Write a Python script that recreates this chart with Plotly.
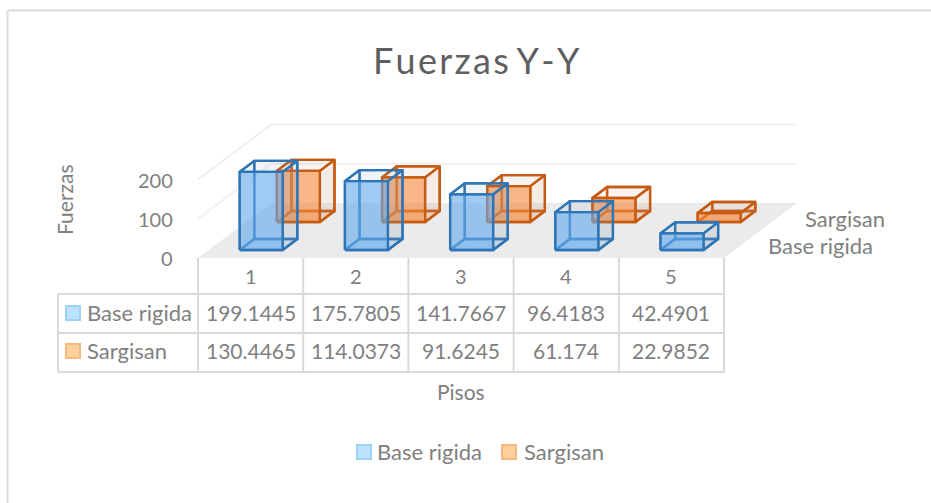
import plotly.graph_objects as go

floors = [1, 2, 3, 4, 5]
base_rigida = [199.1445, 175.7805, 141.7667, 96.4183, 42.4901]
sargisan = [130.4465, 114.0373, 91.6245, 61.174, 22.9852]
base_labels = ["199.1445", "175.7805", "141.7667", "96.4183", "42.4901"]
sarg_labels = ["130.4465", "114.0373", "91.6245", "61.174", "22.9852"]
value_ticks = [0, 100, 200]

W, H = 931, 503
CAT_PX, VAL_PX = 105.2, 0.392
X1_PX, Y0_PX = 250.6, 258.0
DX_PX, DY_PX = 73.0, 55.0
FONT = "Lato"
GREY = "#808080"
GRID = "#d9d9d9"


def project(c, v, d):
    return c + d * DX_PX / CAT_PX, v + d * DY_PX / VAL_PX


def px(x):
    return x / W


def py(y):
    return 1 - y / H


def poly(points, fill=None, line=None, width=2.3):
    xs, ys = zip(*[project(*p) for p in points])
    return go.Scatter(
        x=list(xs), y=list(ys), mode="lines" if line else "none",
        fill="toself" if fill else None, fillcolor=fill,
        line=dict(color=line, width=width, simplify=False) if line else None,
        showlegend=False, hoverinfo="skip",
    )


fig = go.Figure()
# floor
fig.add_trace(poly([(0.5, 0, 0), (5.5, 0, 0), (5.5, 0, 1), (0.5, 0, 1), (0.5, 0, 0)], fill="#ebebeb"))
# walls
for v in value_ticks[1:]:
    fig.add_trace(poly([(0.5, v, 0), (0.5, v, 1), (5.5, v, 1)], line="#f0f0f0", width=2))


def add_bar(c, v, d0, d1, rgb, side, edge):
    w = 43 / CAT_PX / 2
    a, b = c - w, c + w
    q = lambda x, y, z: (x, y, z)
    ring = lambda pts: pts + [pts[0]]
    back = [q(a, 0, d1), q(b, 0, d1), q(b, v, d1), q(a, v, d1)]
    left = [q(a, 0, d0), q(a, 0, d1), q(a, v, d1), q(a, v, d0)]
    bottom = [q(a, 0, d0), q(b, 0, d0), q(b, 0, d1), q(a, 0, d1)]
    right = [q(b, 0, d0), q(b, 0, d1), q(b, v, d1), q(b, v, d0)]
    top = [q(a, v, d0), q(b, v, d0), q(b, v, d1), q(a, v, d1)]
    front = [q(a, 0, d0), q(b, 0, d0), q(b, v, d0), q(a, v, d0)]
    fig.add_trace(poly(ring(back), line=edge))
    fig.add_trace(poly(ring(left), line=edge))
    fig.add_trace(poly(ring(bottom), fill=f"rgba({rgb},0.12)", line=edge))
    fig.add_trace(poly(ring(right), fill=f"rgba({side},0.18)", line=edge))
    fig.add_trace(poly(ring(top), fill=f"rgba({side},0.10)", line=edge))
    fig.add_trace(poly(ring(front), fill=f"rgba({rgb},0.62)", line=edge))


for c, v in zip(floors, sargisan):
    add_bar(c, v, 36 / DY_PX, 47 / DY_PX, "245,135,60", "200,150,120", "#c55a11")
for c, v in zip(floors, base_rigida):
    add_bar(c, v, 8 / DY_PX, 19 / DY_PX, "100,170,235", "120,150,180", "#2e75b6")


def text(s, x, y, size=21, anchor="center", color=GREY, angle=0):
    fig.add_annotation(
        text=s, x=px(x), y=py(y), xref="paper", yref="paper", showarrow=False,
        xanchor=anchor, yanchor="middle", textangle=angle,
        font=dict(family=FONT, size=size, color=color),
    )


def swatch(x0, x1, yc, fc, lc):
    fig.add_shape(type="rect", xref="paper", yref="paper", x0=px(x0), x1=px(x1),
                  y0=py(yc - 7), y1=py(yc + 7), fillcolor=fc, line=dict(color=lc, width=2))


BLUE_KEY = ("#bde3ff", "#9fd0f7")
ORANGE_KEY = ("#ffd09b", "#f9b880")

text("F\u200au\u200ae\u200ar\u200az\u200aa\u200as Y\u200a-\u200aY", 476, 60, size=36, color="#5f5f5f")
text("Fuerzas", 65, 200, size=21, angle=-90)
for v in value_ticks:
    text(str(v), 175, Y0_PX - v * VAL_PX, size=20, anchor="right")
text("Sargisan", 887, 218, size=22, anchor="right")
text("Base rigida", 875, 245, size=22, anchor="right")
text("Pisos", 461, 391, size=21)

rows = [("Base rigida", base_labels, 313, BLUE_KEY), ("Sargisan", sarg_labels, 351, ORANGE_KEY)]
for c in floors:
    text(str(c), X1_PX + (c - 1) * CAT_PX, 276, size=20)
for name, labels, y, key in rows:
    text(name, 85, y - 1, size=22, anchor="left")
    swatch(66, 80, y, *key)
    for c, s in zip(floors, labels):
        text(s, X1_PX + (c - 1) * CAT_PX, y - 1, size=21)

# legend
swatch(357, 371, 452, *BLUE_KEY)
text("Base rigida", 375, 451, size=22, anchor="left")
swatch(502, 516, 452, *ORANGE_KEY)
text("Sargisan", 522, 451, size=22, anchor="left")

# table rules
for y in (294, 333, 372):
    fig.add_shape(type="line", xref="paper", yref="paper", x0=px(58), x1=px(724), y0=py(y), y1=py(y),
                  line=dict(color=GRID, width=2))
fig.add_shape(type="line", xref="paper", yref="paper", x0=px(58), x1=px(58), y0=py(294), y1=py(372),
              line=dict(color=GRID, width=2))
for c in [0.5] + [f + 0.5 for f in floors]:
    fig.add_shape(type="line", xref="x", yref="paper", x0=c, x1=c, y0=py(Y0_PX), y1=py(372),
                  line=dict(color=GRID, width=2))

# chart frame
fig.add_shape(type="line", xref="paper", yref="paper", x0=px(7.5), x1=px(931), y0=py(10.5), y1=py(10.5),
              line=dict(color="#dcdcdc", width=2))
fig.add_shape(type="line", xref="paper", yref="paper", x0=px(7.5), x1=px(7.5), y0=py(10.5), y1=py(503),
              line=dict(color="#dcdcdc", width=2))

fig.update_layout(
    width=W, height=H, margin=dict(l=0, r=0, t=0, b=0),
    paper_bgcolor="white", plot_bgcolor="white", showlegend=False,
    xaxis=dict(visible=False, range=[1 - X1_PX / CAT_PX, 1 + (W - X1_PX) / CAT_PX], fixedrange=True),
    yaxis=dict(visible=False, range=[(Y0_PX - H) / VAL_PX, Y0_PX / VAL_PX], fixedrange=True),
)
fig.write_html("out.html", config={"displayModeBar": False},
               post_script="document.body.style.margin='0';document.body.style.overflow='hidden';")
